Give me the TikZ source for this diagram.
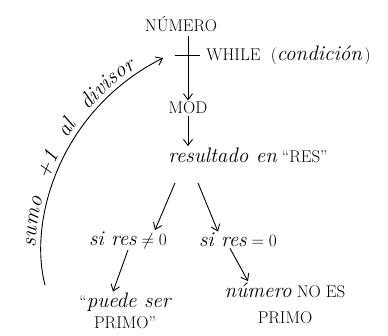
\documentclass[tikz,border=0pt]{standalone}
\usepackage{amsmath}
\usepackage{fontspec}
\usepackage{tikz}
\usetikzlibrary{arrows.meta,positioning,calc,decorations.text}
\newcommand{\hw}[1]{{\fontsize{21}{22}\selectfont\itshape #1}}
\tikzset{
  >={Straight Barb[length=6pt,width=9pt]},
  every picture/.append style={line width=0.9pt},
}
\tikzset{
  word/.style={inner sep=1pt, align=center, font=\fontsize{17}{21}\selectfont},
  arrow/.style={->, line width=0.9pt}
}
\begin{document}
\begin{tikzpicture}[
  x=1pt, y=1pt,
  txt/.style={word},
  loop/.style={->, line width=0.9pt}
]
\useasboundingbox (0,0) rectangle (388,336);

% Loop head
\node[txt] (numero) at (181,312) {NÚMERO};
\node[txt] (mod) at (188,228) {MOD};
\coordinate (bar) at (188,281);
\node[txt, anchor=west] (while) at (205,281) {WHILE\ \ (\hw{condición}\,)};
\draw[arrow, shorten <=3pt] (numero.south -| bar) -- (mod.north);
\draw (175,281) -- (200,281);

% Result of the modulo
\node[txt] (res) at (248,181) {\hw{resultado en}\ ``RES''};
\draw[arrow] (mod.south) -- (mod.south |- res.north);

% Two cases
\node[txt] (ne) at (128,96) {\hw{si res} $\neq 0$};
\node[txt] (eq) at (238,96) {\hw{si res} $= 0$};
\draw[arrow] (175,153) -- (ne.north -| 155,0);
\draw[arrow] (198,153) -- (eq.north -| 218,0);

% Outcomes
\node[txt] (puede) at (125,25) {``\hw{puede ser}\\PRIMO''};
\node[txt, font=\fontsize{17}{26}\selectfont] (noes) at (285,33) {\hw{número} NO ES\\PRIMO};
\draw[arrow] (ne.south -| 128,0) -- (puede.north -| 113,0);
\draw[arrow] (eq.south -| 230,0) -- (noes.north -| 248,0);

% Back to the start
\coordinate (back) at (45,51);
\coordinate (top) at (163,278);
\draw[loop] (back) .. controls (28,116) and (60,226) .. (top);
\path[decorate, decoration={text along path, raise=5pt,
  text align={fit to path stretching spaces, left indent=38pt, right indent=28pt},
  text={|\itshape\fontsize{22}{24}\selectfont|sumo +1 al divisor}}]
  (back) .. controls (28,116) and (60,226) .. (top);

\end{tikzpicture}
\end{document}
